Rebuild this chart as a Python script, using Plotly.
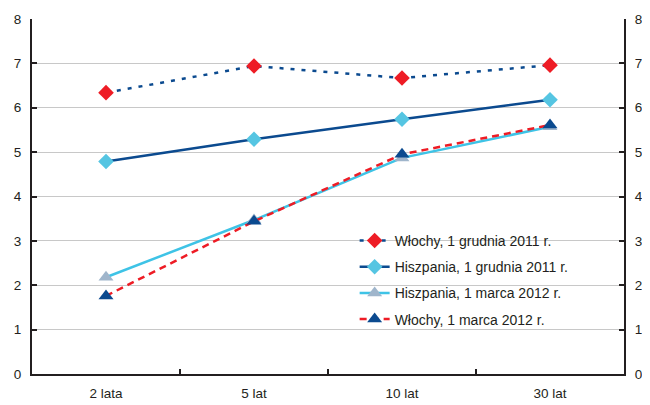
import plotly.graph_objects as go

categories = ["2 lata", "5 lat", "10 lat", "30 lat"]
wlochy_gru = [6.34, 6.94, 6.67, 6.96]
hiszp_gru = [4.79, 5.29, 5.74, 6.18]
hiszp_mar = [2.18, 3.47, 4.87, 5.57]
wlochy_mar = [1.76, 3.44, 4.95, 5.61]
names = ["Włochy, 1 grudnia 2011 r.", "Hiszpania, 1 grudnia 2011 r.",
         "Hiszpania, 1 marca 2012 r.", "Włochy, 1 marca 2012 r."]
yticks = [0, 1, 2, 3, 4, 5, 6, 7, 8]

DARK = "#0B4A8F"
RED = "#EE1C25"
LIGHT = "#3EC3E6"
DIAM = "#55C5E2"
GRAYBLUE = "#9FB5CB"

fig = go.Figure()
fig.add_trace(go.Scatter(x=categories, y=wlochy_gru, name=names[0], mode="lines+markers",
                         line=dict(color=DARK, width=2.5, dash="4px,7px"),
                         marker=dict(symbol="diamond", size=12, color=RED), legendgroup="a"))
fig.add_trace(go.Scatter(x=categories, y=hiszp_gru, name=names[1], mode="lines+markers",
                         line=dict(color=DARK, width=2.5),
                         marker=dict(symbol="diamond", size=12, color=DIAM), legendgroup="b"))
fig.add_trace(go.Scatter(x=categories, y=hiszp_mar, name=names[2], mode="lines+markers",
                         line=dict(color=LIGHT, width=2.5),
                         marker=dict(symbol="triangle-up", size=13, color=GRAYBLUE), legendgroup="c"))
fig.add_trace(go.Scatter(x=categories, y=wlochy_mar, name=names[3], mode="lines+markers",
                         line=dict(color=RED, width=2.5, dash="7px,5px"),
                         marker=dict(symbol="triangle-up", size=13, color=DARK), legendgroup="d"))

fig.update_layout(
    width=642, height=397,
    margin=dict(l=24, r=26, t=11, b=31, autoexpand=False),
    plot_bgcolor="white", paper_bgcolor="white",
    font=dict(family="Liberation Sans, Arial, sans-serif", size=13.5, color="#231F20"),
    showlegend=True,
    legend=dict(x=0.545, y=0.42, xanchor="left", yanchor="top", bgcolor="rgba(0,0,0,0)",
                traceorder="grouped", tracegroupgap=5, font=dict(size=14)),
    xaxis=dict(type="category", tickson="boundaries", ticks="inside", ticklen=5,
               tickcolor="#231F20", tickwidth=1.5, showline=True, linecolor="#231F20",
               linewidth=2, mirror=False, showgrid=False, range=[-0.5, 3.5],
               automargin=False, ticklabelstandoff=6),
    yaxis=dict(range=[0, 8], tickvals=yticks, ticks="inside", ticklen=5,
               tickcolor="#231F20", tickwidth=1.5, showline=True, linecolor="#231F20",
               linewidth=2, gridcolor="#C8C8C8", gridwidth=1, zeroline=False,
               ticklabelstandoff=6, automargin=False),
    yaxis2=dict(range=[0, 8], tickvals=yticks, overlaying="y", side="right", ticks="inside",
                ticklen=5, tickcolor="#231F20", tickwidth=1.5, showline=True,
                linecolor="#231F20", linewidth=2, showgrid=False, zeroline=False,
                matches="y", automargin=False, ticklabelstandoff=6),
)
fig.add_trace(go.Scatter(x=categories, y=wlochy_gru, yaxis="y2", mode="markers",
                         marker=dict(opacity=0), showlegend=False, hoverinfo="skip"))
fig.write_html("out.html")
